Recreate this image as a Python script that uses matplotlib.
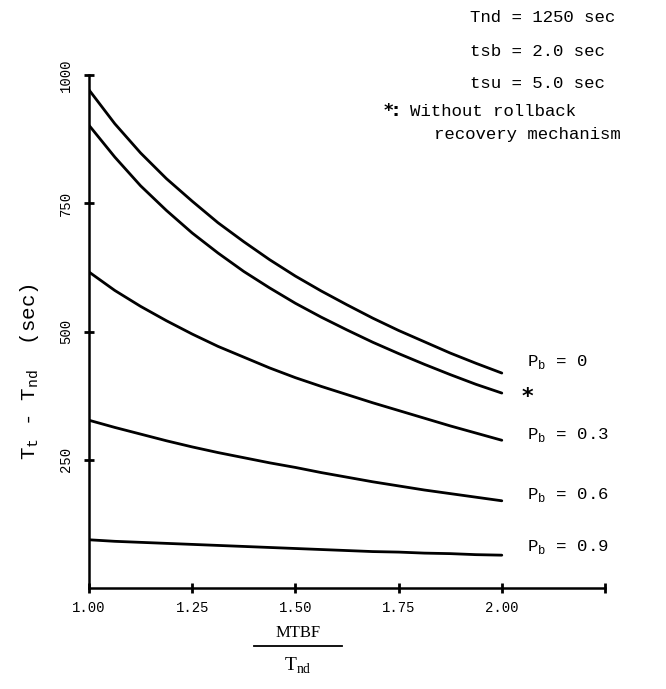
import matplotlib
matplotlib.use("Agg")
import matplotlib.pyplot as plt
from matplotlib.lines import Line2D

# ---- data ----
x_ratio = [1.0, 1.0625, 1.125, 1.1875, 1.25, 1.3125, 1.375, 1.4375, 1.5,
           1.5625, 1.625, 1.6875, 1.75, 1.8125, 1.875, 1.9375, 2.0]
pb_0 = [971, 905, 848, 798, 754, 712, 675, 640, 608, 579, 552, 526, 502, 480, 458, 438, 419]
no_rollback = [902, 840, 784, 736, 692, 653, 617, 585, 555, 528, 503, 479, 457, 436, 416, 397, 380]
pb_03 = [616, 580, 549, 521, 495, 471, 450, 429, 410, 393, 377, 361, 346, 331, 316, 302, 288]
pb_06 = [327, 313, 300, 287, 275, 264, 254, 244, 235, 225, 216, 207, 199, 191, 184, 177, 170]
pb_09 = [94, 91, 89, 87, 85, 83, 81, 79, 77, 75, 73, 71, 70, 68, 67, 65, 64]

x_ticks = [1.0, 1.25, 1.5, 1.75, 2.0, 2.25]
x_ticklabels = ["1.00", "1.25", "1.50", "1.75", "2.00", ""]
y_ticks = [250, 500, 750, 1000]
y_ticklabels = ["250", "500", "750", "1000"]

series = [pb_0, no_rollback, pb_03, pb_06, pb_09]
labels = ["P$_\\mathregular{b}$ = 0", "*", "P$_\\mathregular{b}$ = 0.3",
          "P$_\\mathregular{b}$ = 0.6", "P$_\\mathregular{b}$ = 0.9"]

mono = "Liberation Mono"
serif = "Liberation Serif"

W, H = 666, 689
fig = plt.figure(figsize=(W / 100, H / 100), dpi=100)
ax = fig.add_axes([89 / W, 1 - 588 / H, (605 - 89) / W, (588 - 75) / H])

for s in series:
    ax.plot(x_ratio, s, color="black", lw=2.0, solid_capstyle="round")

ax.set_xlim(1.0, 2.25)
ax.set_ylim(0, 1000)
for sp in ["top", "right"]:
    ax.spines[sp].set_visible(False)
for sp in ["left", "bottom"]:
    ax.spines[sp].set_linewidth(1.8)

ax.set_xticks(x_ticks)
ax.set_xticklabels(x_ticklabels, fontfamily=mono, fontsize=10)
ax.set_yticks(y_ticks)
ax.set_yticklabels(y_ticklabels, fontfamily=mono, fontsize=10, rotation=90, va="center")
ax.tick_params(axis="both", direction="inout", length=7, width=2.0, pad=6)
ax.tick_params(axis="y", pad=8)

# curve labels at the right end
label_pos = [(527, 362), (522, 397), (527, 435), (527, 495), (527, 547)]
for (px, py), lab in zip(label_pos, labels):
    if lab == "*":
        fig.text(px / W, 1 - py / H, "*", fontfamily="DejaVu Sans", fontsize=16,
                 fontweight="bold", ha="left", va="center")
    else:
        fig.text(px / W, 1 - py / H, lab, fontfamily=mono, fontsize=12.5,
                 ha="left", va="center")

# parameter notes
notes = [("Tnd = 1250 sec", 470, 18), ("tsb = 2.0 sec", 470, 51),
         ("tsu = 5.0 sec", 470, 84)]
for t, px, py in notes:
    fig.text(px / W, 1 - py / H, t, fontfamily=mono, fontsize=12.5,
             ha="left", va="center")
fig.text(384 / W, 1 - 111 / H, "*:", fontfamily="DejaVu Sans", fontsize=13,
         fontweight="bold", ha="left", va="center")
fig.text(410 / W, 1 - 111 / H, "Without rollback", fontfamily=mono, fontsize=12.5,
         ha="left", va="center")
fig.text(434 / W, 1 - 134 / H, "recovery mechanism", fontfamily=mono, fontsize=12.5,
         ha="left", va="center")

# y-axis label
fig.text(30 / W, 1 - 372 / H,
         "T$_\\mathregular{t}$ - T$_\\mathregular{nd}$  (sec)",
         fontfamily=mono, fontsize=15, rotation=90, ha="center", va="center")

# x-axis label as fraction
cx = 298
fig.text(cx / W, 1 - 633 / H, "MTBF", fontfamily=serif, fontsize=12,
         ha="center", va="center")
fig.add_artist(Line2D([(cx - 44) / W, (cx + 44) / W], [1 - 646 / H, 1 - 646 / H],
                      color="black", lw=1.3, transform=fig.transFigure))
fig.text(cx / W, 1 - 666 / H, "T$_\\mathregular{nd}$", fontfamily=serif, fontsize=14,
         ha="center", va="center")

fig.savefig("out.png", dpi=100)
